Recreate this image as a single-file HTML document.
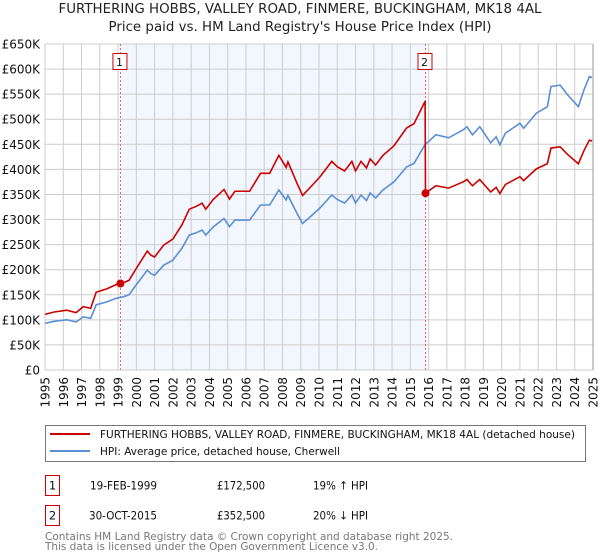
<!DOCTYPE html>
<html><head><meta charset="utf-8"><style>
body{margin:0;background:#fff;font-family:"DejaVu Sans","Liberation Sans",sans-serif;}
#wrap{position:relative;width:600px;height:560px;overflow:hidden;}
</style></head><body>
<div id="wrap">
<svg id="chart" width="600" height="560" xmlns="http://www.w3.org/2000/svg" style="font-family:'DejaVu Sans','Liberation Sans',sans-serif">
<text x="300" y="13" text-anchor="middle" font-size="13" fill="#222" textLength="483" lengthAdjust="spacingAndGlyphs">FURTHERING HOBBS, VALLEY ROAD, FINMERE, BUCKINGHAM, MK18 4AL</text>
<text x="300" y="31" text-anchor="middle" font-size="13" fill="#222" textLength="383" lengthAdjust="spacingAndGlyphs">Price paid vs. HM Land Registry's House Price Index (HPI)</text>
<g id="grid"></g>
<g id="axes"></g>
<g id="series"></g>
<rect x="45.5" y="425.5" width="540" height="36" fill="#fff" stroke="#777"/>
<line x1="50" y1="434" x2="90" y2="434" stroke="#cc0000" stroke-width="2"/>
<text x="100" y="438" font-size="11" fill="#111" textLength="475" lengthAdjust="spacingAndGlyphs">FURTHERING HOBBS, VALLEY ROAD, FINMERE, BUCKINGHAM, MK18 4AL (detached house)</text>
<line x1="50" y1="451" x2="90" y2="451" stroke="#5b8fd4" stroke-width="2"/>
<text x="100" y="455" font-size="11" fill="#111" textLength="240" lengthAdjust="spacingAndGlyphs">HPI: Average price, detached house, Cherwell</text>
<g>
<rect x="45.5" y="475.5" width="14" height="20" fill="#fff" stroke="#cc0000"/>
<text x="52.5" y="489.5" text-anchor="middle" font-size="11.5" fill="#111">1</text>
<text x="157" y="489.5" text-anchor="end" font-size="11.5" fill="#111" textLength="67" lengthAdjust="spacingAndGlyphs">19-FEB-1999</text>
<text x="265" y="489.5" text-anchor="end" font-size="11.5" fill="#111" textLength="48" lengthAdjust="spacingAndGlyphs">£172,500</text>
<text x="313" y="489.5" font-size="11.5" fill="#111" textLength="55" lengthAdjust="spacingAndGlyphs">19% ↑ HPI</text>
</g>
<g>
<rect x="45.5" y="505.5" width="14" height="20" fill="#fff" stroke="#cc0000"/>
<text x="52.5" y="519.5" text-anchor="middle" font-size="11.5" fill="#111">2</text>
<text x="157" y="519.5" text-anchor="end" font-size="11.5" fill="#111" textLength="68" lengthAdjust="spacingAndGlyphs">30-OCT-2015</text>
<text x="265" y="519.5" text-anchor="end" font-size="11.5" fill="#111" textLength="48" lengthAdjust="spacingAndGlyphs">£352,500</text>
<text x="313" y="519.5" font-size="11.5" fill="#111" textLength="55" lengthAdjust="spacingAndGlyphs">20% ↓ HPI</text>
</g>
<text x="45" y="540" font-size="11" fill="#777" textLength="408" lengthAdjust="spacingAndGlyphs">Contains HM Land Registry data © Crown copyright and database right 2025.</text>
<text x="45" y="550" font-size="11" fill="#777" textLength="333" lengthAdjust="spacingAndGlyphs">This data is licensed under the Open Government Licence v3.0.</text>
</svg>
</div>
<script>
const yTicks=[0,50,100,150,200,250,300,350,400,450,500,550,600,650];
const yTickLabels=["£0","£50K","£100K","£150K","£200K","£250K","£300K","£350K","£400K","£450K","£500K","£550K","£600K","£650K"];
const years=[1995,1996,1997,1998,1999,2000,2001,2002,2003,2004,2005,2006,2007,2008,2009,2010,2011,2012,2013,2014,2015,2016,2017,2018,2019,2020,2021,2022,2023,2024,2025];
const hpiDates=[1995.0,1995.5,1996.2,1996.7,1997.1,1997.5,1997.8,1998.4,1998.9,1999.3,1999.6,2000.0,2000.6,2000.8,2001.0,2001.5,2002.0,2002.5,2002.9,2003.3,2003.6,2003.8,2004.2,2004.8,2005.1,2005.4,2006.2,2006.8,2007.3,2007.8,2008.2,2008.3,2008.8,2009.1,2009.6,2010.05,2010.7,2011.0,2011.4,2011.8,2012.0,2012.3,2012.6,2012.8,2013.1,2013.5,2014.1,2014.8,2015.2,2015.8,2016.4,2017.1,2017.9,2018.1,2018.4,2018.8,2019.4,2019.7,2019.9,2020.2,2021.0,2021.2,2021.9,2022.5,2022.7,2023.2,2023.6,2024.2,2024.5,2024.8,2024.95];
const hpiValues=[93,97,100,96,106,103,130,136,143,146,150,170,199,192,189,209,219,243,269,274,279,269,285,302,286,299,299,329,329,359,339,348,312,292,308,323,349,340,333,349,333,349,338,353,343,359,375,405,412,449,469,463,479,485,469,485,453,465,449,472,492,482,512,525,565,568,549,525,558,585,583];
const saleDates=[1999.13,2015.83];
const salePrices=[172.5,352.5];
const saleLabels=["1","2"];

const NS="http://www.w3.org/2000/svg";
const X0=45,X1=593,Y0=370,Y1=44;
const xs=t=>X0+(t-1995)/30*(X1-X0);
const ys=v=>Y0-v/650*(Y0-Y1);
function mk(tag,attrs,parent){const e=document.createElementNS(NS,tag);for(const k in attrs)e.setAttribute(k,attrs[k]);parent.appendChild(e);return e;}
const grid=document.getElementById('grid'),axes=document.getElementById('axes'),series=document.getElementById('series');

const sh=mk('rect',{x:xs(saleDates[0]),y:Y1,width:xs(saleDates[1])-xs(saleDates[0]),height:Y0-Y1,fill:'#f2f6fe'},grid);



yTicks.forEach((v,i)=>{
  const l=mk('line',{x1:X0,x2:X1,y1:ys(v),y2:ys(v),stroke:'#cccccc','stroke-width':1},grid);
  
  
  const t=mk('text',{x:40,y:ys(v)+4.5,'text-anchor':'end','font-size':12,fill:'#111'},axes);
  t.textContent=yTickLabels[i];
  
  
});
years.forEach(y=>{
  const l=mk('line',{x1:xs(y),x2:xs(y),y1:Y1,y2:Y0,stroke:'#cccccc','stroke-width':1},grid);
  
  
  const t=mk('text',{x:0,y:0,'text-anchor':'end','font-size':12,fill:'#111',transform:`translate(${xs(y)+4.5},377) rotate(-90)`},axes);
  t.textContent=y;
  
  
});
const edge=mk('line',{x1:X1,x2:X1,y1:Y1,y2:Y0,stroke:'#999','stroke-width':1},grid);



saleDates.forEach((d,i)=>{
  const l=mk('line',{x1:xs(d),x2:xs(d),y1:Y1,y2:Y0,stroke:'#e06666','stroke-width':1,'stroke-dasharray':'2,2'},grid);
  
  
});

function hpiAt(t){for(let i=1;i<hpiDates.length;i++){if(t<=hpiDates[i]){const f=(t-hpiDates[i-1])/(hpiDates[i]-hpiDates[i-1]);return hpiValues[i-1]+f*(hpiValues[i]-hpiValues[i-1]);}}return hpiValues[hpiValues.length-1];}

const hp=mk('polyline',{points:hpiDates.map((d,i)=>xs(d)+','+ys(hpiValues[i])).join(' '),fill:'none',stroke:'#5b8fd4','stroke-width':1.6},series);



const k1=salePrices[0]/hpiAt(saleDates[0]),k2=salePrices[1]/hpiAt(saleDates[1]);
let pts=[];
hpiDates.forEach((d,i)=>{if(d<saleDates[1]) pts.push([d,hpiValues[i]*k1]);});
pts.push([saleDates[1]-0.02,hpiAt(saleDates[1])*k1]);
pts.push([saleDates[1],salePrices[1]]);
hpiDates.forEach((d,i)=>{if(d>saleDates[1]) pts.push([d,hpiValues[i]*k2]);});
const pl=mk('polyline',{points:pts.map(p=>xs(p[0])+','+ys(p[1])).join(' '),fill:'none',stroke:'#cc0000','stroke-width':1.6},series);



saleDates.forEach((d,i)=>{
  const c=mk('circle',{cx:xs(d),cy:ys(salePrices[i]),r:4,fill:'#cc0000'},series);
  
  
  const b=mk('rect',{x:xs(d)-7-0.5,y:53.5,width:14,height:16,fill:'#fff',stroke:'#cc0000'},series);
  
  
  const t=mk('text',{x:xs(d)-1,y:66,'text-anchor':'middle','font-size':11,fill:'#111'},series);
  t.textContent=saleLabels[i];
  
  
});
</script>
</body></html>
